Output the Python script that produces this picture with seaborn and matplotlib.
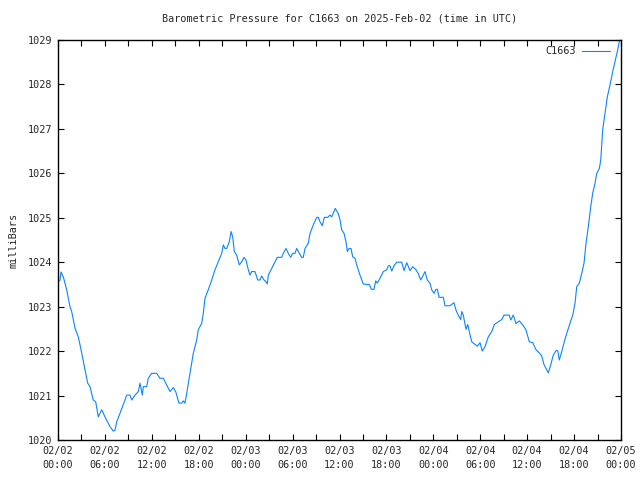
import matplotlib
matplotlib.use("Agg")
import matplotlib.pyplot as plt
import seaborn as sns
import pandas as pd
from matplotlib.ticker import MultipleLocator

# ---- data (hours since 2025-02-02 00:00 UTC, pressure in mbar) ----
hours = [0.00, 0.26, 0.38, 0.68, 1.11, 1.53, 1.75, 1.96, 2.17, 2.60, 3.03, 3.45, 3.80, 4.09, 4.51,
         4.82, 5.15, 5.59, 6.01, 6.65, 7.07, 7.29, 7.51, 7.93, 8.57, 8.79, 9.21, 9.43, 9.85, 10.27,
         10.49, 10.78, 10.91, 11.34, 11.55, 11.98, 12.62, 13.04, 13.47, 14.11, 14.32, 14.75, 15.05,
         15.47, 15.82, 16.02, 16.24, 16.46, 16.88, 17.30, 17.74, 17.94, 18.38, 18.58, 18.80, 19.22,
         19.66, 20.08, 20.50, 20.94, 21.14, 21.36, 21.57, 21.91, 22.13, 22.34, 22.55, 22.85, 23.19,
         23.49, 23.79, 24.04, 24.34, 24.55, 24.77, 25.19, 25.54, 25.83, 26.05, 26.35, 26.60, 26.77,
         26.90, 27.33, 27.75, 28.05, 28.61, 28.81, 29.16, 29.45, 29.76, 30.02, 30.31, 30.53, 30.86,
         31.17, 31.37, 31.59, 32.01, 32.23, 32.65, 33.09, 33.29, 33.51, 33.80, 34.06, 34.49, 34.79,
         35.00, 35.46, 35.85, 36.07, 36.28, 36.58, 36.83, 37.00, 37.22, 37.47, 37.69, 37.98, 38.20,
         38.62, 39.04, 39.48, 39.81, 40.07, 40.41, 40.63, 40.84, 41.18, 41.60, 42.04, 42.24, 42.46,
         42.68, 42.97, 43.32, 43.96, 44.25, 44.60, 45.02, 45.36, 45.78, 46.08, 46.39, 46.72, 46.94,
         47.23, 47.57, 47.79, 48.09, 48.34, 48.51, 48.73, 49.28, 49.49, 50.13, 50.64, 50.90, 51.19,
         51.50, 51.63, 51.83, 52.18, 52.40, 52.60, 52.91, 53.33, 53.63, 53.97, 54.26, 54.61, 55.03,
         55.47, 55.80, 56.31, 56.75, 57.04, 57.72, 57.90, 58.23, 58.57, 59.00, 59.43, 59.85, 60.27,
         60.71, 61.13, 61.55, 61.86, 62.15, 62.41, 62.70, 63.01, 63.34, 63.69, 63.91, 64.11, 64.42,
         64.84, 65.14, 65.48, 65.83, 66.12, 66.34, 66.67, 66.98, 67.27, 67.53, 67.82, 68.13, 68.38,
         68.68, 68.90, 69.23, 69.41, 69.66, 69.96, 70.25, 70.60, 70.94, 71.23, 71.53, 71.78, 71.94]

pressure = [1023.55, 1023.60, 1023.78, 1023.67, 1023.38, 1023.00, 1022.89, 1022.70, 1022.52, 1022.32,
            1021.96, 1021.58, 1021.28, 1021.20, 1020.90, 1020.86, 1020.52, 1020.68, 1020.52, 1020.30,
            1020.20, 1020.22, 1020.41, 1020.60, 1020.90, 1021.01, 1021.01, 1020.90, 1021.01, 1021.09,
            1021.28, 1021.01, 1021.20, 1021.20, 1021.39, 1021.50, 1021.50, 1021.39, 1021.39, 1021.16,
            1021.09, 1021.18, 1021.09, 1020.83, 1020.83, 1020.88, 1020.83, 1021.05, 1021.50, 1021.95,
            1022.25, 1022.48, 1022.63, 1022.85, 1023.19, 1023.38, 1023.60, 1023.83, 1024.01, 1024.20,
            1024.39, 1024.31, 1024.31, 1024.46, 1024.69, 1024.57, 1024.24, 1024.16, 1023.94, 1024.01,
            1024.11, 1024.05, 1023.83, 1023.71, 1023.79, 1023.79, 1023.60, 1023.60, 1023.69, 1023.60,
            1023.56, 1023.51, 1023.71, 1023.86, 1024.01, 1024.11, 1024.11, 1024.20, 1024.31, 1024.20,
            1024.11, 1024.20, 1024.20, 1024.31, 1024.20, 1024.11, 1024.11, 1024.31, 1024.43, 1024.65,
            1024.84, 1025.01, 1025.01, 1024.91, 1024.82, 1025.01, 1025.01, 1025.06, 1025.02, 1025.21,
            1025.09, 1024.95, 1024.73, 1024.65, 1024.46, 1024.24, 1024.31, 1024.31, 1024.12, 1024.09,
            1023.94, 1023.71, 1023.51, 1023.50, 1023.50, 1023.39, 1023.39, 1023.58, 1023.53, 1023.64,
            1023.79, 1023.83, 1023.92, 1023.92, 1023.80, 1023.92, 1024.00, 1024.00, 1023.81, 1023.99,
            1023.81, 1023.90, 1023.83, 1023.74, 1023.60, 1023.71, 1023.79, 1023.60, 1023.53, 1023.38,
            1023.30, 1023.39, 1023.39, 1023.21, 1023.21, 1023.02, 1023.02, 1023.09, 1022.92, 1022.81,
            1022.71, 1022.89, 1022.81, 1022.49, 1022.60, 1022.44, 1022.21, 1022.15, 1022.11, 1022.19,
            1022.00, 1022.10, 1022.32, 1022.44, 1022.60, 1022.66, 1022.71, 1022.81, 1022.81, 1022.70,
            1022.81, 1022.62, 1022.68, 1022.59, 1022.48, 1022.21, 1022.19, 1022.03, 1021.96, 1021.89,
            1021.70, 1021.61, 1021.51, 1021.69, 1021.91, 1022.01, 1022.01, 1021.80, 1021.99, 1022.27,
            1022.44, 1022.63, 1022.81, 1023.08, 1023.45, 1023.53, 1023.75, 1023.98, 1024.43, 1024.80,
            1025.25, 1025.55, 1025.78, 1026.00, 1026.11, 1026.30, 1026.98, 1027.35, 1027.72, 1027.99,
            1028.29, 1028.51, 1028.74, 1028.96, 1029.05]

tick_hours = [0, 6, 12, 18, 24, 30, 36, 42, 48, 54, 60, 66, 72]
tick_labels = ["02/02\n00:00", "02/02\n06:00", "02/02\n12:00", "02/02\n18:00",
               "02/03\n00:00", "02/03\n06:00", "02/03\n12:00", "02/03\n18:00",
               "02/04\n00:00", "02/04\n06:00", "02/04\n12:00", "02/04\n18:00",
               "02/05\n00:00"]
y_ticks = [1020, 1021, 1022, 1023, 1024, 1025, 1026, 1027, 1028, 1029]

station = "C1663"
title = "Barometric Pressure for C1663 on 2025-Feb-02 (time in UTC)"
ylabel = "milliBars"

df = pd.DataFrame({"hours": hours, "pressure": pressure, "station": station})

sns.set_style("white")
plt.rcParams["font.family"] = ["DejaVu Sans Mono"]

fig = plt.figure(figsize=(6.4, 4.8), dpi=100)
ax = fig.add_axes([58 / 640, 40 / 480, 563 / 640, 400 / 480])

sns.lineplot(data=df, x="hours", y="pressure", hue="station", palette=["#0a84ff"],
             linewidth=0.8, ax=ax, estimator=None, sort=False)

ax.set_xlim(0, 72)
ax.set_ylim(1020, 1029)
ax.set_xticks(tick_hours)
ax.set_xticklabels(tick_labels, fontsize=7.3, linespacing=1.55)
ax.xaxis.set_minor_locator(MultipleLocator(3))
ax.set_yticks(y_ticks)
ax.set_yticklabels([str(v) for v in y_ticks], fontsize=7.3)

ax.tick_params(axis="both", which="both", direction="in", top=True, right=True,
               bottom=True, left=True, color="black", width=0.8)
ax.tick_params(axis="both", which="major", length=4.5, pad=4)
ax.tick_params(axis="x", which="minor", length=4.5)

for s in ax.spines.values():
    s.set_color("black")
    s.set_linewidth(1.0)

ax.set_xlabel("")
ax.set_ylabel(ylabel, fontsize=7.3, labelpad=7)
ax.text(0.5, 1 + 21 / 400, title, ha="center", va="center", fontsize=7.3,
        transform=ax.transAxes)

leg = ax.legend(loc="upper right", frameon=False, fontsize=7.3, handlelength=2.8,
                markerfirst=False, borderaxespad=0.3, handletextpad=0.5,
                bbox_to_anchor=(1 - 4 / 563, 1 + 1 / 400))

fig.savefig("out.png", dpi=100)
